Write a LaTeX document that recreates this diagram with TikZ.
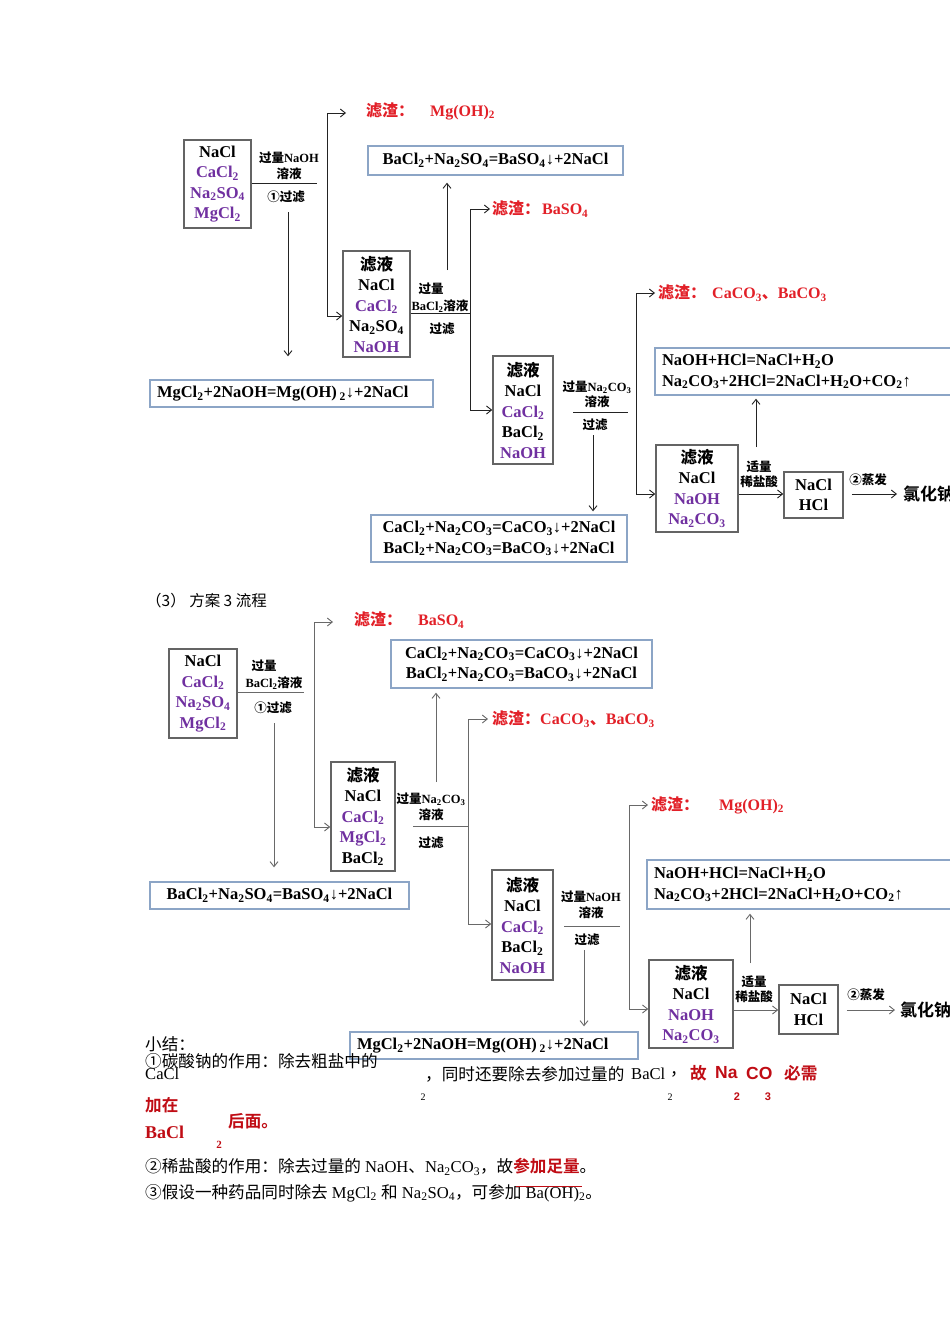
\documentclass[tikz,border=0pt]{standalone}
\usepackage{fontspec}
\setmainfont{Liberation Serif}
\setsansfont{Liberation Sans}
\newfontfamily\cjk{Noto Sans CJK SC}
\newfontfamily\cjkb{Noto Sans CJK SC Bold}
\usetikzlibrary{arrows.meta}
\definecolor{chp}{RGB}{112,48,160}
\definecolor{rd}{RGB}{226,32,40}
\definecolor{dred}{RGB}{192,12,20}
\definecolor{bxg}{RGB}{100,100,100}
\definecolor{eqb}{RGB}{140,165,198}
\definecolor{lnA}{RGB}{35,35,35}
\definecolor{lnB}{RGB}{105,105,105}
\newcommand\zh[1]{{\cjk #1}}
\newcommand\zb[1]{{\cjkb #1}}
\newcommand\pp[1]{\textcolor{chp}{#1}}
\newcommand\lsb[1]{\textsubscript{#1}}
\tikzset{
  cbox/.style={draw=bxg, line width=1.6, align=center, inner sep=0,
    font=\fontsize{16.5}{20.5}\selectfont\bfseries},
  lbl/.style={inner sep=0, font=\fontsize{12.5}{14}\selectfont\bfseries},
  eqbox/.style={draw=eqb, line width=1.4, inner xsep=7, inner ysep=0,
    font=\fontsize{16.5}{20.5}\selectfont\bfseries},
  arrA/.style={draw=lnA, line width=0.9, -{Straight Barb[length=5,width=8]}},
  lineA/.style={draw=lnA, line width=0.9},
  arrB/.style={draw=lnB, line width=0.9, -{Straight Barb[length=5,width=8]}},
  lineB/.style={draw=lnB, line width=0.9},
  res/.style={inner sep=0, anchor=west, text=rd, font=\fontsize{16}{18}\selectfont\bfseries},
  prod/.style={inner sep=0, anchor=west, font=\fontsize{17}{18}\selectfont},
  txt/.style={inner sep=0, anchor=west, font=\fontsize{16.6}{18}\selectfont},
  sm/.style={inner sep=0, font=\fontsize{10}{12}\selectfont},
}
\begin{document}
\begin{tikzpicture}[x=1pt,y=-1pt]
\useasboundingbox[fill=white] (0,0) rectangle (950,1344);

% ================= first flow =================
\node[cbox, minimum width=67, minimum height=88] (b1) at (217.5,184)
  {NaCl\\\pp{CaCl\lsb2}\\\pp{Na\lsb2SO\lsb4}\\\pp{MgCl\lsb2}};
\node[lbl] (l1a) at (289,158) {\zb{过量}NaOH};
\node[lbl] (l1b) at (289,174) {\zb{溶液}};
\coordinate (h1e) at (317,183);
\draw[lineA] (b1.east |- h1e) -- (h1e);
\node[lbl] (l1c) at (286,197) {\zb{①过滤}};
\node[eqbox, text width=269, align=left, minimum height=27] (e1) at (291.5,393.5)
  {MgCl\lsb2+2NaOH=Mg(OH)\,\lsb2↓+2NaCl};
\coordinate (d1) at (288,212);
\draw[arrA, shorten >=23] (d1) -- (d1 |- e1.north);

\node[cbox, minimum width=67, minimum height=106] (b2) at (376.5,304)
  {\zb{滤液}\\NaCl\\\pp{CaCl\lsb2}\\Na\lsb2SO\lsb4\\\pp{NaOH}};
\coordinate (v1t) at (327,113);
\coordinate (v1b) at (327,316);
\coordinate (r1a) at (346,113);
\draw[lineA] (v1t) -- (v1b);
\draw[arrA] (v1t) -- (r1a);
\draw[arrA] (v1b) -- (v1b -| b2.west);
\node[res] (r1) at (366,111) {\zb{滤渣：}\hspace{16pt}Mg(OH)\lsb2};

\node[lbl] (l2a) at (431,289) {\zb{过量}};
\node[lbl] (l2b) at (440,306) {BaCl\lsb2\zb{溶液}};
\coordinate (h2e) at (470,313);
\draw[lineA] (b2.east |- h2e) -- (h2e);
\node[lbl] (l2c) at (442,329) {\zb{过滤}};
\node[eqbox, text width=241, align=center, minimum height=29] (e2) at (495.5,160.5)
  {BaCl\lsb2+Na\lsb2SO\lsb4=BaSO\lsb4↓+2NaCl};
\coordinate (u2) at (447,270);
\draw[arrA, shorten >=7] (u2) -- (u2 |- e2.south);

\node[cbox, minimum width=60, minimum height=108] (b3) at (523,410)
  {\zb{滤液}\\NaCl\\\pp{CaCl\lsb2}\\BaCl\lsb2\\\pp{NaOH}};
\coordinate (v2t) at (470,209);
\coordinate (v2b) at (470,410);
\coordinate (r2a) at (490,209);
\draw[lineA] (v2t) -- (v2b);
\draw[arrA] (v2t) -- (r2a);
\draw[arrA] (v2b) -- (v2b -| b3.west);
\node[res] (r2) at (492,209) {\zb{滤渣：}\hspace{2pt}BaSO\lsb4};

\node[lbl] (l3a) at (597,387) {\zb{过量}Na\lsb2CO\lsb3};
\node[lbl] (l3b) at (597,402) {\zb{溶液}};
\coordinate (h3s) at (573,412);
\coordinate (h3e) at (628,412);
\draw[lineA] (h3s) -- (h3e);
\node[lbl] (l3c) at (595,425) {\zb{过滤}};
\node[eqbox, text width=242, align=center, minimum height=47] (e3) at (499,538.5)
  {CaCl\lsb2+Na\lsb2CO\lsb3=CaCO\lsb3↓+2NaCl\\BaCl\lsb2+Na\lsb2CO\lsb3=BaCO\lsb3↓+2NaCl};
\coordinate (d3) at (593,435);
\draw[arrA, shorten >=3] (d3) -- (d3 |- e3.north);

\node[cbox, minimum width=82, minimum height=87] (b4) at (697,488.5)
  {\zb{滤液}\\NaCl\\\pp{NaOH}\\\pp{Na\lsb2CO\lsb3}};
\coordinate (v3t) at (636,293);
\coordinate (v3b) at (636,494);
\coordinate (r3a) at (655,293);
\draw[lineA] (v3t) -- (v3b);
\draw[arrA] (v3t) -- (r3a);
\draw[arrA] (v3b) -- (v3b -| b4.west);
\node[res] (r3) at (658,293) {\zb{滤渣：}\hspace{6pt}CaCO\lsb3\zb{、}BaCO\lsb3};

\node[cbox, minimum width=59, minimum height=46] (b5) at (813.5,495) {NaCl\\HCl};
\node[lbl] (l4a) at (759,467) {\zb{适量}};
\node[lbl] (l4b) at (759,482) {\zb{稀盐酸}};
\draw[arrA] (b4.east |- 0,494) -- (b5.west |- 0,494);
\node[eqbox, text width=289, align=left, minimum height=47] (e4) at (806.5,371.5)
  {NaOH+HCl=NaCl+H\lsb2O\\Na\lsb2CO\lsb3+2HCl=2NaCl+H\lsb2O+CO\lsb2↑};
\coordinate (u4) at (756,447);
\draw[arrA, shorten >=3] (u4) -- (u4 |- e4.south);
\node[lbl] (l5) at (868,480) {\zh{②蒸发}};
\node[prod] (p1) at (903,494) {\zb{氯化钠}};
\draw[arrA, shorten <=8, shorten >=6] (b5.east |- p1.west) -- (p1.west);

% ================= heading =================
\node[txt, font=\fontsize{15.5}{18}\selectfont] (hd) at (146,601) {\zh{（3） 方案 3 流程}};

% ================= second flow =================
\node[cbox, minimum width=68, minimum height=89] (c1) at (203,693.5)
  {NaCl\\\pp{CaCl\lsb2}\\\pp{Na\lsb2SO\lsb4}\\\pp{MgCl\lsb2}};
\node[lbl] (m1a) at (264,666) {\zb{过量}};
\node[lbl] (m1b) at (274,683) {BaCl\lsb2\zb{溶液}};
\coordinate (k1e) at (304,692);
\draw[lineB] (c1.east |- k1e) -- (k1e);
\node[lbl] (m1c) at (273,708) {\zb{①过滤}};
\node[eqbox, text width=245, align=center, minimum height=27] (f1) at (279.5,895.5)
  {BaCl\lsb2+Na\lsb2SO\lsb4=BaSO\lsb4↓+2NaCl};
\coordinate (g1) at (274,723);
\draw[arrB, shorten >=14] (g1) -- (g1 |- f1.north);

\node[cbox, minimum width=64, minimum height=109] (c2) at (363,816.5)
  {\zb{滤液}\\NaCl\\\pp{CaCl\lsb2}\\\pp{MgCl\lsb2}\\BaCl\lsb2};
\coordinate (w1t) at (314,622);
\coordinate (w1b) at (314,827);
\coordinate (s1a) at (333,622);
\draw[lineB] (w1t) -- (w1b);
\draw[arrB] (w1t) -- (s1a);
\draw[arrB] (w1b) -- (w1b -| c2.west);
\node[res] (s1) at (354,620) {\zb{滤渣：}\hspace{16pt}BaSO\lsb4};

\node[lbl] (m2a) at (431,799) {\zb{过量}Na\lsb2CO\lsb3};
\node[lbl] (m2b) at (431,815) {\zb{溶液}};
\coordinate (k2s) at (413,826);
\coordinate (k2e) at (468,826);
\draw[lineB] (k2s) -- (k2e);
\node[lbl] (m2c) at (431,843) {\zb{过滤}};
\node[eqbox, text width=247, align=center, minimum height=48] (f2) at (521.5,664)
  {CaCl\lsb2+Na\lsb2CO\lsb3=CaCO\lsb3↓+2NaCl\\BaCl\lsb2+Na\lsb2CO\lsb3=BaCO\lsb3↓+2NaCl};
\coordinate (t2) at (436,782);
\draw[arrB, shorten >=4] (t2) -- (t2 |- f2.south);

\node[cbox, minimum width=61, minimum height=110] (c3) at (522.5,925)
  {\zb{滤液}\\NaCl\\\pp{CaCl\lsb2}\\BaCl\lsb2\\\pp{NaOH}};
\coordinate (w2t) at (468,719);
\coordinate (w2b) at (468,924);
\coordinate (s2a) at (488,719);
\draw[lineB] (w2t) -- (w2b);
\draw[arrB] (w2t) -- (s2a);
\draw[arrB] (w2b) -- (w2b -| c3.west);
\node[res] (s2) at (492,719) {\zb{滤渣：}CaCO\lsb3\zb{、}BaCO\lsb3};

\node[lbl] (m3a) at (591,897) {\zb{过量}NaOH};
\node[lbl] (m3b) at (591,913) {\zb{溶液}};
\coordinate (k3s) at (564,926);
\coordinate (k3e) at (620,926);
\draw[lineB] (k3s) -- (k3e);
\node[lbl] (m3c) at (587,940) {\zb{过滤}};
\node[eqbox, text width=274, align=left, minimum height=27] (f3) at (494,1045.5)
  {MgCl\lsb2+2NaOH=Mg(OH)\,\lsb2↓+2NaCl};
\coordinate (g3) at (584,950);
\draw[arrB, shorten >=5] (g3) -- (g3 |- f3.north);

\node[cbox, minimum width=84, minimum height=88] (c4) at (691,1004)
  {\zb{滤液}\\NaCl\\\pp{NaOH}\\\pp{Na\lsb2CO\lsb3}};
\coordinate (w3t) at (629,805);
\coordinate (w3b) at (629,1009);
\coordinate (s3a) at (648,805);
\draw[lineB] (w3t) -- (w3b);
\draw[arrB] (w3t) -- (s3a);
\draw[arrB] (w3b) -- (w3b -| c4.west);
\node[res] (s3) at (651,805) {\zb{滤渣：}\hspace{20pt}Mg(OH)\lsb2};

\node[cbox, minimum width=59, minimum height=49] (c5) at (808.5,1009.5) {NaCl\\HCl};
\node[lbl] (m4a) at (754,982) {\zb{适量}};
\node[lbl] (m4b) at (754,997) {\zb{稀盐酸}};
\draw[arrB] (c4.east |- 0,1010) -- (c5.west |- 0,1010);
\node[eqbox, text width=297, align=left, minimum height=49] (f4) at (802.5,884.5)
  {NaOH+HCl=NaCl+H\lsb2O\\Na\lsb2CO\lsb3+2HCl=2NaCl+H\lsb2O+CO\lsb2↑};
\coordinate (t4) at (750,963);
\draw[arrB, shorten >=4] (t4) -- (t4 |- f4.south);
\node[lbl] (m5) at (866,995) {\zh{②蒸发}};
\node[prod] (p2) at (900,1010) {\zb{氯化钠}};
\draw[arrB, shorten <=8, shorten >=5] (c5.east |- p2.west) -- (p2.west);

% ================= summary text =================
\node[txt] (x0) at (145,1044) {\zh{小结：}};
\node[txt] (x1) at (145,1061) {\zh{①碳酸钠的作用：除去粗盐中的}};
\node[txt] (x2) at (145,1074) {CaCl};
\node[txt] (x3) at (425,1074) {\zh{，同时还要除去参加过量的}};
\node[txt] (x4) at (631,1074) {BaCl};
\node[txt] (x5) at (670,1074) {\zh{，}};
\node[sm] (x6) at (423,1097) {2};
\node[sm] (x7) at (670,1097) {2};
\node[txt, text=dred] (x8) at (690,1073) {\zb{故}};
\node[txt, text=dred, font=\fontsize{17.5}{18}\selectfont\sffamily\bfseries] (x9) at (715,1073) {Na};
\node[txt, text=dred, font=\fontsize{17.5}{18}\selectfont\sffamily\bfseries] (x10) at (746,1073) {CO};
\node[txt, text=dred] (x11) at (784,1073) {\zb{必需}};
\node[sm, text=dred, font=\fontsize{11}{12}\selectfont\sffamily\bfseries] (x12) at (737,1097) {2};
\node[sm, text=dred, font=\fontsize{11}{12}\selectfont\sffamily\bfseries] (x13) at (768,1097) {3};
\node[txt, text=dred] (x14) at (145,1105) {\zb{加在}};
\node[txt, text=dred] (x15) at (228,1121) {\zb{后面。}};
\node[txt, text=dred, font=\fontsize{18}{18}\selectfont\bfseries] (x16) at (145,1132) {BaCl};
\node[sm, text=dred, font=\fontsize{11}{12}\selectfont\bfseries] (x17) at (219,1145) {2};
\node[txt] (x18) at (145,1167)
  {\zh{②稀盐酸的作用：除去过量的} NaOH\zh{、}Na\lsb2CO\lsb3\zh{，故}\textcolor{dred}{\zb{参加足量}}\zh{。}};
\node[txt] (x19) at (145,1193)
  {\zh{③假设一种药品同时除去} MgCl\lsb2 \zh{和} Na\lsb2SO\lsb4\zh{，可参加} Ba(OH)\lsb2\zh{。}};
\coordinate (ol1) at (516,1186);
\coordinate (ol2) at (582,1186);
\draw[draw=dred, line width=1] (ol1) -- (ol2);
\end{tikzpicture}
\end{document}
